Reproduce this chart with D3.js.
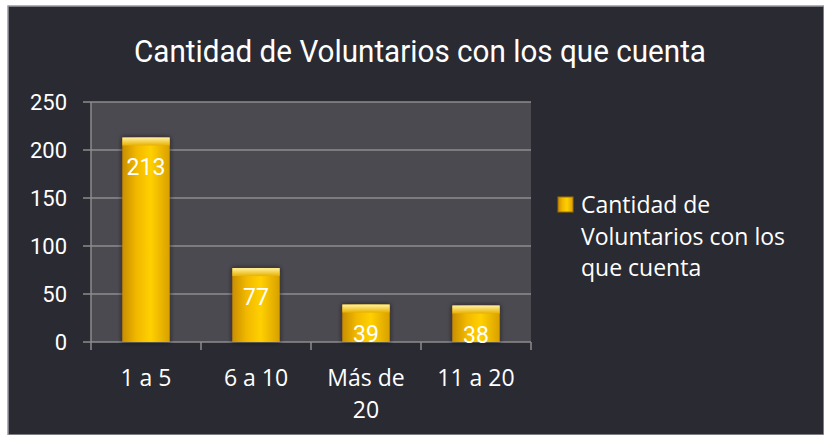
<!DOCTYPE html>
<html>
<head>
<meta charset="utf-8">
<script src="https://cdn.jsdelivr.net/npm/d3@7"></script>
<style>
  html, body { margin: 0; padding: 0; background: #fff; }
  svg { display: block; }
</style>
</head>
<body>
<div id="chart"></div>
<script>
// Chart data
const categories = ["1 a 5", "6 a 10", "Más de 20", "11 a 20"];
const categoryLines = [["1 a 5"], ["6 a 10"], ["Más de", "20"], ["11 a 20"]];
const values = [213, 77, 39, 38];
const yTicks = [0, 50, 100, 150, 200, 250];
const seriesName = ["Cantidad de", "Voluntarios con los", "que cuenta"];
const title = "Cantidad de Voluntarios con los que cuenta";

const width = 824, height = 435;
const plot = { left: 91, right: 531, top: 102, bottom: 342 };

const svg = d3.select("#chart").append("svg")
  .attr("width", width)
  .attr("height", height);

const defs = svg.append("defs");
const grad = defs.append("linearGradient").attr("id", "barGrad")
  .attr("x1", "0%").attr("x2", "100%").attr("y1", "0%").attr("y2", "0%");
grad.append("stop").attr("offset", "0%").attr("stop-color", "#c98e00");
grad.append("stop").attr("offset", "30%").attr("stop-color", "#f2b800");
grad.append("stop").attr("offset", "60%").attr("stop-color", "#ffd000");
grad.append("stop").attr("offset", "100%").attr("stop-color", "#d9a000");
const capGrad = defs.append("linearGradient").attr("id", "capGrad")
  .attr("x1", "0%").attr("x2", "0%").attr("y1", "0%").attr("y2", "100%");
capGrad.append("stop").attr("offset", "0%").attr("stop-color", "#fff3a0");
capGrad.append("stop").attr("offset", "100%").attr("stop-color", "#e8b000");
const shadow = defs.append("filter").attr("id", "shadow")
  .attr("x", "-30%").attr("y", "-10%").attr("width", "160%").attr("height", "130%");
shadow.append("feGaussianBlur").attr("in", "SourceAlpha").attr("stdDeviation", 2.5).attr("result", "b");
shadow.append("feFlood").attr("flood-color", "#1a1408").attr("flood-opacity", 0.8);
shadow.append("feComposite").attr("in2", "b").attr("operator", "in").attr("result", "s");
const merge = shadow.append("feMerge");
merge.append("feMergeNode").attr("in", "s");
merge.append("feMergeNode").attr("in", "SourceGraphic");

// Background frame
svg.append("rect").attr("x", 0).attr("y", 0).attr("width", width).attr("height", height).attr("fill", "#fff");
svg.append("rect").attr("x", 8).attr("y", 6).attr("width", width - 8).attr("height", height - 6)
  .attr("fill", "#2a2a33").attr("stroke", "#9a9aa0").attr("stroke-width", 1.5);

// Title (narrow face, squeezed to the reference width)
svg.append("text")
  .attr("x", 420).attr("y", 62)
  .attr("text-anchor", "middle")
  .attr("font-family", "Roboto, sans-serif")
  .attr("font-size", 31)
  .attr("textLength", 572)
  .attr("lengthAdjust", "spacingAndGlyphs")
  .attr("fill", "#fff")
  .text(title);

const x = d3.scaleBand().domain(categories).range([plot.left, plot.right]).paddingInner(0.57).paddingOuter(0.285);
const y = d3.scaleLinear().domain([0, 250]).range([plot.bottom, plot.top]);

// Plot area
svg.append("rect")
  .attr("x", plot.left).attr("y", plot.top)
  .attr("width", plot.right - plot.left).attr("height", plot.bottom - plot.top)
  .attr("fill", "#4b4a51");

// Gridlines
svg.append("g").selectAll("line").data(yTicks).join("line")
  .attr("x1", plot.left - 8).attr("x2", plot.right)
  .attr("y1", d => y(d)).attr("y2", d => y(d))
  .attr("stroke", "#8c8c8c").attr("stroke-width", 1.5);

// Y axis line
svg.append("line").attr("x1", plot.left).attr("x2", plot.left)
  .attr("y1", plot.top).attr("y2", plot.bottom)
  .attr("stroke", "#8c8c8c").attr("stroke-width", 1.5);

// Y tick labels
svg.append("g").selectAll("text").data(yTicks).join("text")
  .attr("x", 67).attr("y", d => y(d) + 8)
  .attr("text-anchor", "end")
  .attr("font-family", "Roboto, sans-serif")
  .attr("font-size", 22)
  .attr("fill", "#fff")
  .text(d => d);

// X axis ticks
const xEdges = categories.map(c => x(c) - x.step() * x.paddingInner() / 2).concat([plot.right]);
svg.append("g").selectAll("line").data(xEdges).join("line")
  .attr("x1", d => d).attr("x2", d => d)
  .attr("y1", plot.bottom).attr("y2", plot.bottom + 8)
  .attr("stroke", "#8c8c8c").attr("stroke-width", 1.5);

// Bars
const bars = svg.append("g").selectAll("g").data(values).join("g");
bars.append("rect")
  .attr("x", (d, i) => x(categories[i]))
  .attr("y", d => y(d))
  .attr("width", x.bandwidth())
  .attr("height", d => plot.bottom - y(d))
  .attr("fill", "url(#barGrad)")
  .attr("filter", "url(#shadow)");
bars.append("rect")
  .attr("x", (d, i) => x(categories[i]))
  .attr("y", d => y(d))
  .attr("width", x.bandwidth())
  .attr("height", 8)
  .attr("fill", "url(#capGrad)");

// Value labels
svg.append("g").selectAll("text").data(values).join("text")
  .attr("x", (d, i) => x(categories[i]) + x.bandwidth() / 2)
  .attr("y", d => y(d) + 37)
  .attr("text-anchor", "middle")
  .attr("font-family", "Roboto, sans-serif")
  .attr("font-size", 23)
  .attr("fill", "#fff")
  .text(d => d);

// Category labels
const catG = svg.append("g").selectAll("text").data(categoryLines).join("text")
  .attr("text-anchor", "middle")
  .attr("font-family", "'Open Sans', sans-serif")
  .attr("font-size", 23)
  .attr("fill", "#fff");
catG.selectAll("tspan").data((d, i) => d.map(t => ({ t, i }))).join("tspan")
  .attr("x", d => x(categories[d.i]) + x.bandwidth() / 2)
  .attr("y", (d, j) => 386 + j * 32)
  .text(d => d.t);

// Legend
svg.append("rect").attr("x", 558).attr("y", 197).attr("width", 15).attr("height", 15)
  .attr("fill", "url(#barGrad)").attr("stroke", "#a07000").attr("stroke-width", 1);
svg.append("text")
  .attr("font-family", "'Open Sans', sans-serif")
  .attr("font-size", 23)
  .attr("fill", "#fff")
  .selectAll("tspan").data(seriesName).join("tspan")
  .attr("x", 581).attr("y", (d, i) => 213 + i * 31.5)
  .text(d => d);
</script>
</body>
</html>
